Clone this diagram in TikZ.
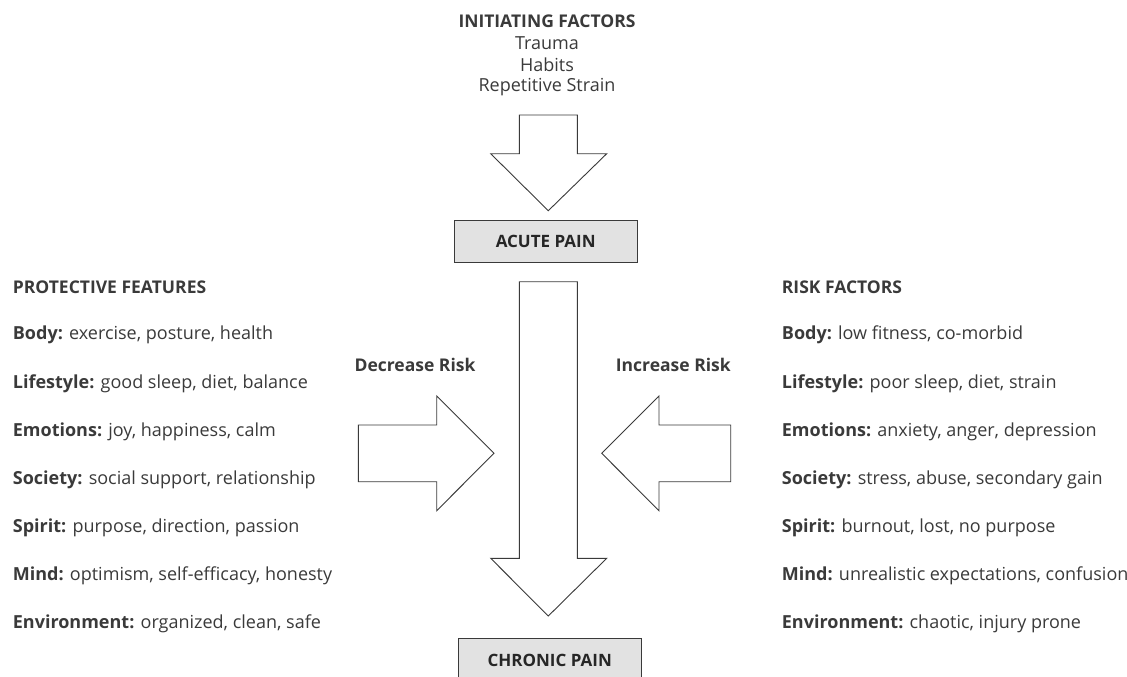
\documentclass[tikz,border=0pt]{standalone}
\usepackage{fontspec}
\setmainfont{Open Sans}
\definecolor{ink}{HTML}{3A3A3A}
\definecolor{boxfill}{HTML}{E2E2E2}
\begin{document}
\begin{tikzpicture}[x=1pt,y=-1pt,
  txt/.style={font=\fontsize{18}{21}\selectfont, text=ink, inner sep=0pt},
  btxt/.style={txt, font=\fontsize{17.5}{21}\selectfont\bfseries},
  item/.style={txt, anchor=west},
  head/.style={btxt, anchor=west},
  blockarrow/.style={draw=ink, line width=0.9pt, fill=white, line join=miter},
  painbox/.style={draw=ink, line width=0.9pt, fill=boxfill, minimum width=183pt, minimum height=42pt, font=\fontsize{17}{21}\selectfont\bfseries, text=black!85, inner sep=0pt}
]
\useasboundingbox (0,0) rectangle (1127,677);

% initiating factors
\node[btxt] (init) at (547,21) {INITIATING FACTORS};
\node[txt] (trauma) at (547,43) {Trauma};
\node[txt] (habits) at (547,65) {Habits};
\node[txt] (rep) at (547,87) {Repetitive Strain};

% top arrow
\draw[blockarrow] (519.3,115) -- (577.3,115) -- (577.3,153.7) -- (606.7,153.7) -- (548.3,210.7) -- (490.7,153.7) -- (519.3,153.7) -- cycle;

\node[painbox] (acute) at (545.7,241.7) {ACUTE PAIN};

% long arrow
\draw[blockarrow] (519.3,281.7) -- (577.3,281.7) -- (577.3,558.3) -- (606.7,558.3) -- (548.3,616) -- (490.7,558.3) -- (519.3,558.3) -- cycle;

% chronic box
\node[painbox, minimum height=44pt] (chronic) at (549.7,660.3) {CHRONIC PAIN};

% side arrows
\draw[blockarrow] (358.3,425) -- (436.7,425) -- (436.7,396) -- (494,453.3) -- (436.7,510.7) -- (436.7,481.7) -- (358.3,481.7) -- cycle;
\draw[blockarrow] (730.7,425) -- (659,425) -- (659,396) -- (601.7,453.3) -- (659,510.7) -- (659,481.7) -- (730.7,481.7) -- cycle;

\node[btxt] (dec) at (415,365) {Decrease Risk};
\node[btxt] (inc) at (673.3,365) {Increase Risk};

% protective features
\node[head] (ph) at (12.7,287.3) {PROTECTIVE FEATURES};
\node[item] (p1) at (12.7,335) {\textbf{Body:} exercise, posture, health};
\node[item] (p2) at (12.7,383.3) {\textbf{Lifestyle:} good sleep, diet, balance};
\node[item] (p3) at (12.7,431.7) {\textbf{Emotions:} joy, happiness, calm};
\node[item] (p4) at (12.7,480) {\textbf{Society:} social support, relationship};
\node[item] (p5) at (12.7,528.3) {\textbf{Spirit:} purpose, direction, passion};
\node[item] (p6) at (12.7,576) {\textbf{Mind:} optimism, self-efficacy, honesty};
\node[item] (p7) at (12.7,624) {\textbf{Environment:} organized, clean, safe};

% risk factors
\node[head] (rh) at (781.7,287.3) {RISK FACTORS};
\node[item] (r1) at (781.7,335) {\textbf{Body:} low fitness, co-morbid};
\node[item] (r2) at (781.7,383.3) {\textbf{Lifestyle:} poor sleep, diet, strain};
\node[item] (r3) at (781.7,431.7) {\textbf{Emotions:} anxiety, anger, depression};
\node[item] (r4) at (781.7,480) {\textbf{Society:} stress, abuse, secondary gain};
\node[item] (r5) at (781.7,528.3) {\textbf{Spirit:} burnout, lost, no purpose};
\node[item] (r6) at (781.7,576) {\textbf{Mind:} unrealistic expectations, confusion};
\node[item] (r7) at (781.7,624) {\textbf{Environment:} chaotic, injury prone};
\end{tikzpicture}
\end{document}
